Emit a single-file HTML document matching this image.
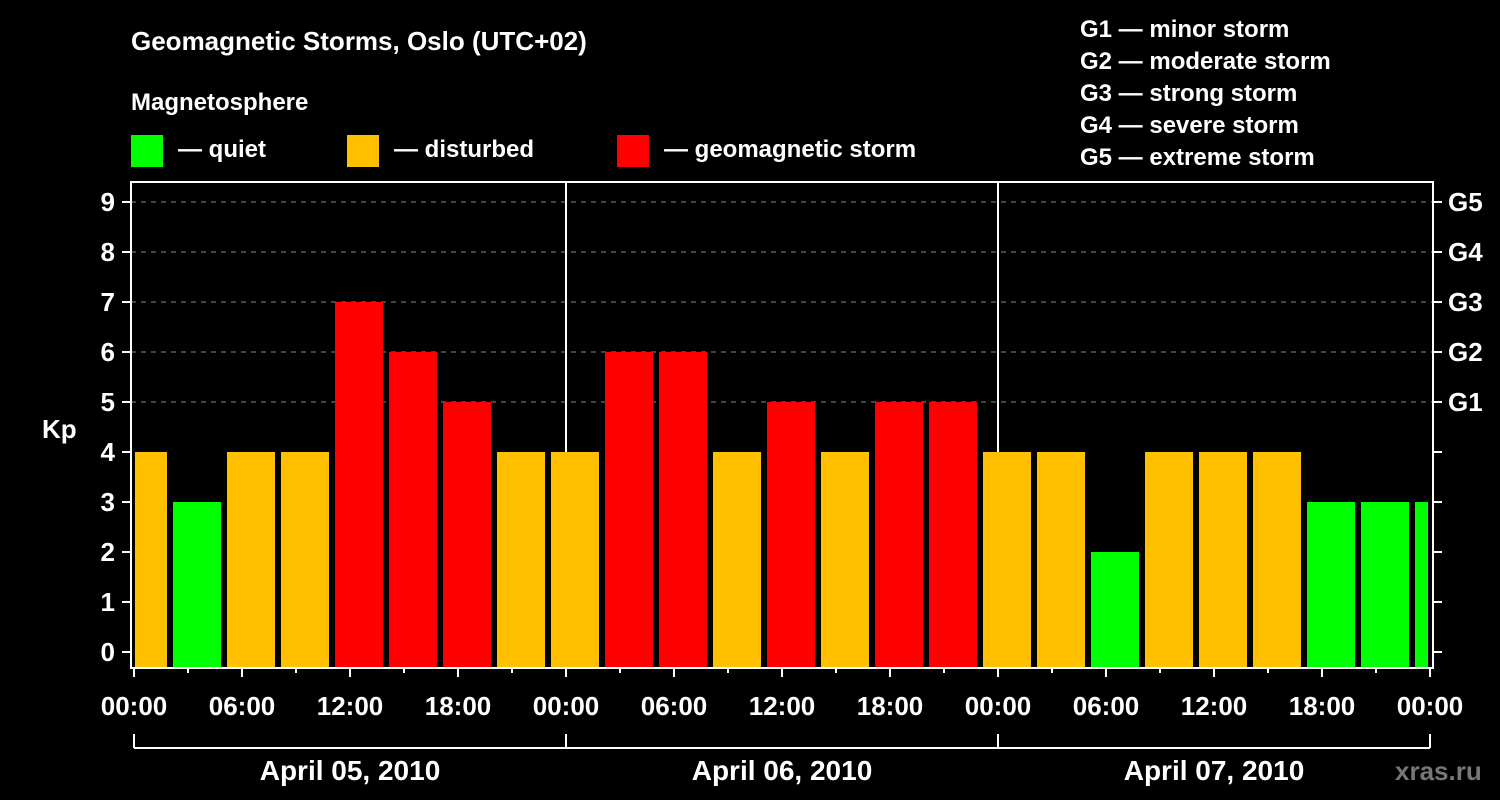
<!DOCTYPE html>
<html><head><meta charset="utf-8"><style>
html,body{margin:0;padding:0;background:#000;width:1500px;height:800px;overflow:hidden}
svg text{font-family:"Liberation Sans",Arial,sans-serif;font-weight:bold;fill:#fff}
</style></head><body>
<svg id="chart" width="1500" height="800" xmlns="http://www.w3.org/2000/svg">
<text x="131" y="50" font-size="26">Geomagnetic Storms, Oslo (UTC+02)</text>
<text x="131" y="110" font-size="24">Magnetosphere</text>
<g>
<rect x="131" y="135" width="32" height="32" fill="#00ff00"/>
<text x="178" y="157" font-size="24">— quiet</text>
<rect x="347" y="135" width="32" height="32" fill="#ffc000"/>
<text x="394" y="157" font-size="24">— disturbed</text>
<rect x="617" y="135" width="32" height="32" fill="#ff0000"/>
<text x="664" y="157" font-size="24">— geomagnetic storm</text>
</g>
<g font-size="24">
<text x="1080" y="37">G1 — minor storm</text>
<text x="1080" y="69">G2 — moderate storm</text>
<text x="1080" y="101">G3 — strong storm</text>
<text x="1080" y="133">G4 — severe storm</text>
<text x="1080" y="165">G5 — extreme storm</text>
</g>
<text x="42" y="438" font-size="26">Kp</text>
<g id="grid"></g><g id="bars"></g><g id="axes"></g>
<text x="1395" y="780" font-size="26" style="fill:#777">xras.ru</text>
</svg>
<script>
const kpValues=[4,3,4,4,7,6,5,4,4,6,6,4,5,4,5,5,4,4,2,4,4,4,3,3,3];
const yTicks=[0,1,2,3,4,5,6,7,8,9];
const gLabels=["G1","G2","G3","G4","G5"];
const gLevels=[5,6,7,8,9];
const xTickLabels=["00:00","06:00","12:00","18:00","00:00","06:00","12:00","18:00","00:00","06:00","12:00","18:00","00:00"];
const dayLabels=["April 05, 2010","April 06, 2010","April 07, 2010"];
const NS="http://www.w3.org/2000/svg";
const L=131,R=1433,T=182,B=668,X0=134,HP=18;
const y=v=>652-50*v;
const x=h=>X0+h*HP;
function mk(tag,attrs,parent,txt){const e=document.createElementNS(NS,tag);for(const k in attrs)e.setAttribute(k,attrs[k]);if(txt!==undefined)e.textContent=txt;parent.appendChild(e);return e;}
const grid=document.getElementById('grid'),bars=document.getElementById('bars'),axes=document.getElementById('axes');
gLevels.forEach(v=>{const e=mk('line',{x1:L,x2:R,y1:y(v),y2:y(v),stroke:'#888','stroke-width':1,'stroke-dasharray':'5,5'},grid);

});
// day separators
[1,2].forEach(d=>{const e=mk('line',{x1:x(24*d),x2:x(24*d),y1:T,y2:B,stroke:'#fff','stroke-width':2},grid);

});
kpValues.forEach((v,i)=>{let s=x(-1+3*i)+3,e2=x(2+3*i)-3;s=Math.max(s,L+4);e2=Math.min(e2,x(72)-2);
const c=v>=5?'#ff0000':(v>=4?'#ffc000':'#00ff00');
const r=mk('rect',{x:s,y:y(v),width:e2-s,height:B-1-y(v),fill:c},bars);

});
const f=mk('rect',{x:L,y:T,width:R-L,height:B-T,fill:'none',stroke:'#fff','stroke-width':2},axes);


yTicks.forEach(v=>{mk('line',{x1:L-9,x2:L,y1:y(v),y2:y(v),stroke:'#fff','stroke-width':2},axes);
mk('line',{x1:R,x2:R+9,y1:y(v),y2:y(v),stroke:'#fff','stroke-width':2},axes);
const t=mk('text',{x:L-16,y:y(v)+9,'font-size':26,'text-anchor':'end'},axes,v);

});
gLevels.forEach((v,i)=>{const t=mk('text',{x:1448,y:y(v)+9,'font-size':26},axes,gLabels[i]);

});
for(let h=0;h<=72;h+=3){const major=h%6===0;mk('line',{x1:x(h),x2:x(h),y1:B,y2:B+(major?9:5),stroke:'#fff','stroke-width':2},axes);}
xTickLabels.forEach((lab,i)=>{const t=mk('text',{x:x(6*i),y:715,'font-size':26,'text-anchor':'middle'},axes,lab);

});
mk('line',{x1:x(0),x2:x(72),y1:748,y2:748,stroke:'#fff','stroke-width':2},axes);
[0,1,2,3].forEach(d=>mk('line',{x1:x(24*d),x2:x(24*d),y1:734,y2:748,stroke:'#fff','stroke-width':2},axes));
dayLabels.forEach((lab,i)=>{const t=mk('text',{x:x(24*i+12),y:780,'font-size':28,'text-anchor':'middle'},axes,lab);

});
</script>
</body></html>
